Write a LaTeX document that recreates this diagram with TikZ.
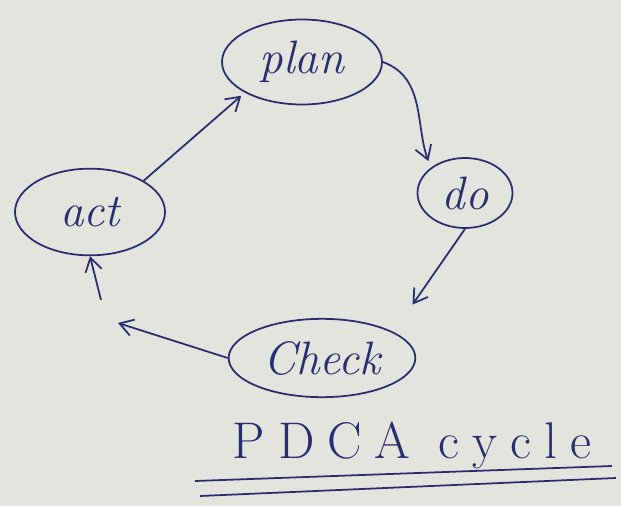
\documentclass[tikz,border=0pt]{standalone}
\usepackage{fontspec}
\newfontfamily\titlefont[LetterSpace=25]{Latin Modern Roman}
\usetikzlibrary{shapes.geometric,arrows.meta}
\definecolor{ink}{RGB}{42,44,110}
\definecolor{paper}{RGB}{228,228,222}
\begin{document}
\begin{tikzpicture}[x=0.03cm,y=-0.03cm, ink, line width=1.5pt]
			\fill[paper] (0,0) rectangle (621,506);
			\useasboundingbox (0,0) rectangle (621,506);

			\begin{scope}[every node/.style={ellipse, draw, inner sep=0pt, font=\fontsize{40}{46}\selectfont\itshape}]
				\node[minimum width=4.8cm, minimum height=2.55cm] (plan) at (302,62) {plan};
				\node[minimum width=2.85cm, minimum height=2.1cm] (do) at (465,193) {do};
				\node[minimum width=5.6cm, minimum height=2.35cm] (check) at (322,358) {Check};
				\node[minimum width=4.5cm, minimum height=2.6cm] (act) at (90,212) {act};
			\end{scope}

			\coordinate (c1) at (118,323);
			\coordinate (c2) at (101,300);

			\begin{scope}[every path/.style={-{Straight Barb[length=4mm,width=5mm]}}]
				\draw[shorten >=4pt] (act.north east) -- (plan.south west);
				\draw[shorten >=6pt] (plan.east) to[out=-20, in=110] (do.north west);
				\draw[shorten >=1cm] (do.south) -- (check.20);
				\draw (check.west) -- (c1);
				\draw (c2) -- (act.south);
			\end{scope}

			\node[font=\fontsize{44}{50}\selectfont\titlefont] (title) at (412,446) {PDCA cycle};
			\draw (195,481) -- (612,466);
			\draw (200,496) -- (616,478);
		\end{tikzpicture}
\end{document}
